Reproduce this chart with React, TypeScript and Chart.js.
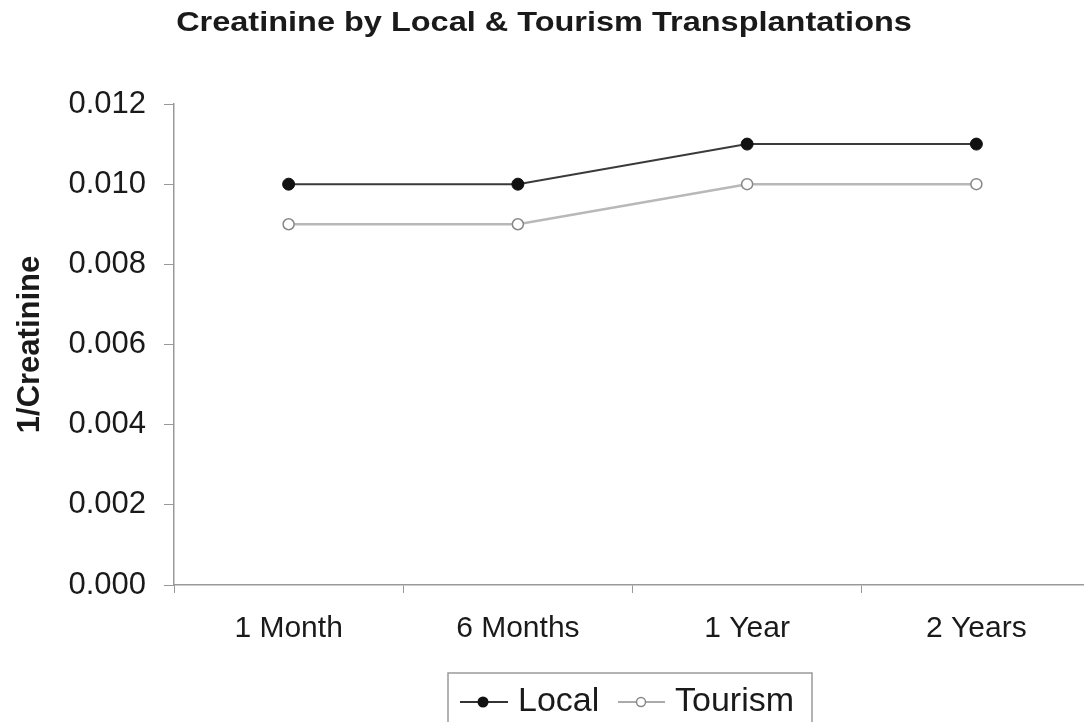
import React, { useEffect, useRef } from "react";
import { Chart, registerables } from "chart.js";

Chart.register(...registerables);

// Measurement points along the follow-up period
const periods = ["1 Month", "6 Months", "1 Year", "2 Years"];
// 1/Creatinine for locally performed transplantations
const localValues = [0.01, 0.01, 0.011, 0.011];
// 1/Creatinine for transplant-tourism patients
const tourismValues = [0.009, 0.009, 0.01, 0.01];
// Value axis range and step
const yMin = 0;
const yMax = 0.012;
const yStep = 0.002;

const chartTitle = "Creatinine by Local & Tourism Transplantations";
const yTitle = "1/Creatinine";
const seriesNames = ["Local", "Tourism"];

const FONT = "'Liberation Sans', Arial, Helvetica, sans-serif";
const CANVAS_W = 1098;
const CANVAS_H = 722;

// Title across the top and the boxed legend underneath the plot
const decorations = {
  id: "decorations",
  afterDraw(chart: Chart) {
    const ctx = chart.ctx as any;
    ctx.save();
    // title, drawn slightly widened
    ctx.fillStyle = "#1a1a1a";
    ctx.font = `bold 28px ${FONT}`;
    ctx.textAlign = "center";
    ctx.textBaseline = "alphabetic";
    ctx.translate(544, 31);
    ctx.scale(1.16, 1);
    ctx.fillText(chartTitle, 0, 0);
    ctx.restore();

    ctx.save();
    // legend box
    ctx.strokeStyle = "#9a9a9a";
    ctx.lineWidth = 1.5;
    ctx.strokeRect(448, 673, 364, 60);

    const ly = 702;
    // Local entry
    ctx.strokeStyle = "#333";
    ctx.lineWidth = 2;
    ctx.beginPath();
    ctx.moveTo(460, ly);
    ctx.lineTo(508, ly);
    ctx.stroke();
    ctx.fillStyle = "#111";
    ctx.beginPath();
    ctx.arc(483, ly, 5.5, 0, Math.PI * 2);
    ctx.fill();

    // Tourism entry
    ctx.strokeStyle = "#aaa";
    ctx.lineWidth = 2;
    ctx.beginPath();
    ctx.moveTo(618, ly);
    ctx.lineTo(665, ly);
    ctx.stroke();
    ctx.fillStyle = "#fff";
    ctx.strokeStyle = "#888";
    ctx.lineWidth = 1.5;
    ctx.beginPath();
    ctx.arc(641, ly, 4.5, 0, Math.PI * 2);
    ctx.fill();
    ctx.stroke();

    ctx.fillStyle = "#1a1a1a";
    ctx.font = `34px ${FONT}`;
    ctx.textAlign = "left";
    ctx.textBaseline = "middle";
    ctx.fillText(seriesNames[0], 518, ly);
    ctx.fillText(seriesNames[1], 675, ly);
    ctx.restore();
  },
};

export default function App() {
  const canvasRef = useRef<HTMLCanvasElement | null>(null);

  useEffect(() => {
    const canvas = canvasRef.current;
    if (!canvas) return;
    const chart = new Chart(canvas, {
      type: "line",
      data: {
        labels: periods,
        datasets: [
          {
            label: seriesNames[0],
            data: localValues,
            borderColor: "#3a3a3a",
            borderWidth: 2,
            pointRadius: 6,
            pointBackgroundColor: "#111",
            pointBorderColor: "#111",
            pointBorderWidth: 1,
            tension: 0,
          },
          {
            label: seriesNames[1],
            data: tourismValues,
            borderColor: "#b8b8b8",
            borderWidth: 2.5,
            pointRadius: 5.5,
            pointBackgroundColor: "#fff",
            pointBorderColor: "#888",
            pointBorderWidth: 1.5,
            tension: 0,
          },
        ],
      },
      options: {
        responsive: false,
        animation: false,
        layout: { padding: { top: 104, left: 0, right: 0, bottom: 80 } },
        plugins: {
          legend: { display: false },
          title: { display: false },
          tooltip: { enabled: false },
        },
        scales: {
          x: {
            offset: true,
            afterFit: (scale: any) => {
              scale.height = 57;
            },
            grid: {
              offset: true,
              drawOnChartArea: false,
              drawTicks: true,
              tickLength: 8,
              color: "#999",
            },
            border: { display: true, color: "#999", width: 1.5 },
            ticks: {
              color: "#1a1a1a",
              padding: 18,
              font: { family: FONT, size: 30 },
              maxRotation: 0,
            },
          },
          y: {
            min: yMin,
            max: yMax,
            afterFit: (scale: any) => {
              scale.width = 174;
            },
            grid: {
              drawOnChartArea: false,
              drawTicks: true,
              tickLength: 10,
              color: "#999",
            },
            border: { display: true, color: "#999", width: 1.5 },
            ticks: {
              stepSize: yStep,
              color: "#1a1a1a",
              padding: 18,
              font: { family: FONT, size: 31 },
              callback: (v: any) => Number(v).toFixed(3),
            },
            title: {
              display: true,
              text: yTitle,
              color: "#1a1a1a",
              font: { family: FONT, size: 31, weight: "bold" },
              padding: { top: 12, bottom: 0 },
            },
          },
        },
      },
      plugins: [decorations],
    });
    return () => chart.destroy();
  }, []);

  return (
    <div
      style={{
        position: "fixed",
        left: 0,
        top: 0,
        width: 1084,
        height: CANVAS_H,
        overflow: "hidden",
        background: "#fff",
      }}
    >
      <div style={{ width: CANVAS_W, height: CANVAS_H }}>
        <canvas
          ref={canvasRef}
          width={CANVAS_W}
          height={CANVAS_H}
          style={{ display: "block" }}
        />
      </div>
    </div>
  );
}
